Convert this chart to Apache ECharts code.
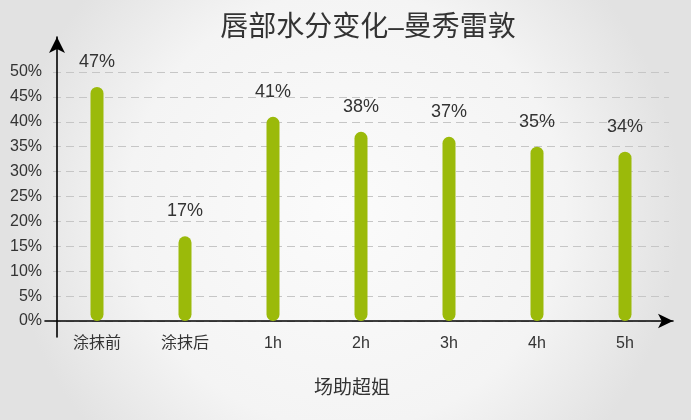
<!DOCTYPE html>
<html>
<head>
<meta charset="utf-8">
<script src="https://cdn.jsdelivr.net/npm/echarts@6/dist/echarts.min.js"></script>
<style>
html,body{margin:0;padding:0;}
#chart{width:691px;height:420px;}
</style>
</head>
<body>
<div id="chart"></div>
<script>
var titleText = '唇部水分变化–曼秀雷敦';
var categories = ['涂抹前', '涂抹后', '1h', '2h', '3h', '4h', '5h'];
var values = [47, 17, 41, 38, 37, 35, 34];
var xAxisName = '场助超姐';
var yMin = 0, yMax = 50, yStep = 5;

var FONT = '"Liberation Sans", Arial, "Noto Sans CJK SC", sans-serif';
var chart = echarts.init(document.getElementById('chart'));
chart.setOption({
  backgroundColor: {
    type: 'radial', x: 0.5, y: 0.5, r: 0.8,
    colorStops: [{offset: 0, color: '#fbfbfb'}, {offset: 0.65, color: '#f4f4f4'}, {offset: 1, color: '#e2e2e2'}]
  },
  textStyle: {fontFamily: FONT},
  title: {
    text: titleText, left: 363, top: 9, textAlign: 'center',
    textStyle: {fontSize: 28, fontWeight: 'normal', color: '#333', fontFamily: FONT}
  },
  grid: [
    {left: 53, width: 616, top: 72, bottom: 99},
    {left: 45, right: 18, top: 37, bottom: 83}
  ],
  xAxis: [
    {
      type: 'category', gridIndex: 0, data: categories,
      axisLine: {show: false}, axisTick: {show: false},
      axisLabel: {fontSize: 16, color: '#333', margin: 15, fontFamily: FONT},
      name: xAxisName, nameLocation: 'middle', nameGap: 58,
      nameTextStyle: {fontSize: 19, color: '#333', fontFamily: FONT, padding: [0, 18, 0, 0]}
    },
    {
      type: 'value', gridIndex: 1, min: -12, max: 616,
      axisLine: {show: true, onZero: true, symbol: ['none', 'arrow'], symbolSize: [11, 15], lineStyle: {color: '#000', width: 1.6}},
      axisTick: {show: false}, axisLabel: {show: false}, splitLine: {show: false}
    }
  ],
  yAxis: [
    {
      type: 'value', gridIndex: 0, min: yMin, max: yMax, interval: yStep,
      axisLine: {show: false}, axisTick: {show: false},
      axisLabel: {fontSize: 16, color: '#333', margin: 11, formatter: '{value}%', fontFamily: FONT},
      splitLine: {show: true, lineStyle: {type: [8, 5], color: '#c6c6c6', width: 1}}
    },
    {
      type: 'value', gridIndex: 1, min: -16, max: 284,
      axisLine: {show: true, onZero: true, symbol: ['none', 'arrow'], symbolSize: [12, 16], lineStyle: {color: '#000', width: 1.6}},
      axisTick: {show: false}, axisLabel: {show: false}, splitLine: {show: false}
    }
  ],
  series: [{
    type: 'bar', xAxisIndex: 0, yAxisIndex: 0,
    data: values, barWidth: 13,
    itemStyle: {color: '#9bba0a', borderRadius: 6.5},
    label: {show: true, position: 'top', distance: 16, formatter: '{c}%', fontSize: 18, color: '#333', fontFamily: FONT}
  }]
});
</script>
</body>
</html>
